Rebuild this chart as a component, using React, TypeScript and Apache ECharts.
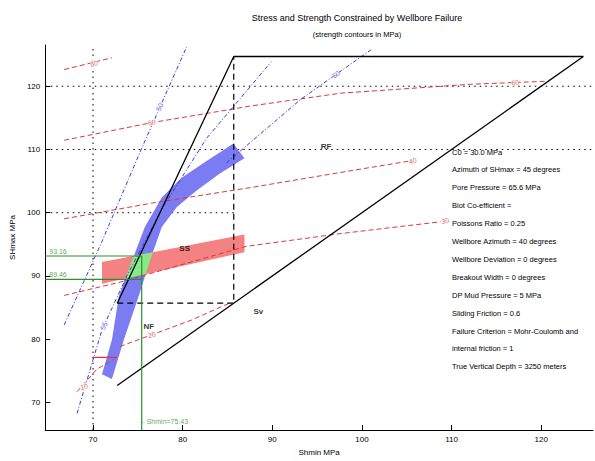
import React, { useEffect, useRef } from "react";
import * as echarts from "echarts";

// ---- axes ----
const xTickValues = [70, 80, 90, 100, 110, 120];
const yTickValues = [70, 80, 90, 100, 110, 120];
const xRange = [64.67, 125.78];
const yRange = [65.65, 126.52];

// ---- stress polygon (MPa) ----
const svMPa = 85.7;
const shminFrictionLimit = 72.7;
const shmaxFrictionLimit = 124.7;

// ---- dotted reference lines ----
const dottedShmin = [70];
const dottedShmaxFull = [120, 110];
const dottedShmaxShort = [100];

// ---- strength contours (red, dashed) ----
const redContour1 = [[66.78, 122.64], [72.11, 124.5]];
const redContour2 = [[66.78, 111.46], [76.56, 114.25], [87.67, 116.89], [97.67, 118.91], [112.11, 120.31], [120.44, 120.78]];
const redContour3 = [[66.78, 99.04], [76.56, 101.52], [87.67, 104.0], [98.78, 106.65], [105.44, 108.2]];
const redContour4 = [[66.78, 86.93], [73.22, 89.1], [87.11, 94.69], [97.67, 96.71], [108.78, 98.57]];
const redContour5 = [[73.0, 78.85], [76.56, 80.71], [81.0, 83.04], [85.44, 85.84]];
const redContour6 = [[68.22, 71.71], [70.44, 75.28], [72.33, 76.83]];
const redSolidSegment = [[69.89, 77.14], [72.67, 77.14]];
const redContours = [redContour1, redContour2, redContour3, redContour4, redContour5, redContour6];
const redLabelText = ["80", "60", "60", "40", "30", "20", "10"];
const redLabelPos = [[70.1, 123.6], [76.56, 114.25], [117.1, 120.6], [105.67, 108.2], [109.3, 98.7], [76.56, 80.71], [69.0, 72.5]];

// ---- strength contours (blue, dash-dot) ----
const blueContour1 = [[66.78, 82.27], [71.0, 95.47], [75.44, 110.22], [80.44, 126.21]];
const blueContour2 = [[68.22, 68.29], [71.0, 81.49], [73.78, 90.03], [77.67, 100.59], [82.67, 111.77], [89.89, 123.88]];
const blueContour3 = [[84.89, 107.89], [93.22, 117.98], [101.0, 125.75]];
const blueContours = [blueContour1, blueContour2, blueContour3];
const blueLabelText = ["50", "55", "60"];
const blueLabelPos = [[77.44, 116.74], [71.22, 82.1], [97.11, 121.86]];

// ---- breakout band (blue) and tensile band (red) ----
const blueBandLeft = [[71.0, 74.47], [72.11, 79.91], [72.89, 86.89], [74.33, 92.33], [75.78, 97.76], [77.67, 102.42], [79.89, 105.53], [82.67, 108.17], [85.67, 110.96]];
const blueBandRight = [[72.11, 73.7], [73.44, 79.91], [75.11, 86.89], [76.33, 92.33], [77.67, 97.76], [79.33, 100.87], [81.56, 103.51], [84.11, 106.15], [86.89, 108.63]];
const redBandTop = [[71.0, 92.2], [86.89, 96.55]];
const redBandBottom = [[71.0, 88.79], [86.89, 93.76]];

// ---- constrained values ----
const shmaxUpper = 93.16;
const shmaxLower = 89.46;
const shminValue = 75.43;

// ---- region labels ----
const regionText = ["RF", "SS", "NF", "Sv"];
const regionPos = [[96.0, 110.53], [80.22, 94.38], [76.22, 81.96], [88.44, 84.44]];

// ---- info text ----
const infoLines = [
  "C0 = 30.0 MPa",
  "Azimuth of SHmax = 45 degrees",
  "Pore Pressure = 65.6 MPa",
  "Biot Co-efficient =",
  "Poissons Ratio = 0.25",
  "Wellbore Azimuth = 40 degrees",
  "Wellbore Deviation = 0 degrees",
  "Breakout Width = 0 degrees",
  "DP Mud Pressure = 5 MPa",
  "Sliding Friction = 0.6",
  "Failure Criterion = Mohr-Coulomb and",
  "internal friction = 1",
  "True Vertical Depth = 3250 meters",
];

const FONT = "Liberation Sans, Arial, sans-serif";

function clipPolygon(subject: number[][], clip: number[][]) {
  let area = 0;
  for (let i = 0; i < clip.length; i++) {
    const a = clip[i], b = clip[(i + 1) % clip.length];
    area += a[0] * b[1] - b[0] * a[1];
  }
  const s = Math.sign(area);
  const inside = (p: number[], a: number[], b: number[]) =>
    ((b[0] - a[0]) * (p[1] - a[1]) - (b[1] - a[1]) * (p[0] - a[0])) * s >= 0;
  const intersect = (p: number[], q: number[], a: number[], b: number[]) => {
    const x1 = p[0], y1 = p[1], x2 = q[0], y2 = q[1];
    const x3 = a[0], y3 = a[1], x4 = b[0], y4 = b[1];
    const den = (x1 - x2) * (y3 - y4) - (y1 - y2) * (x3 - x4);
    const t = ((x1 - x3) * (y3 - y4) - (y1 - y3) * (x3 - x4)) / den;
    return [x1 + t * (x2 - x1), y1 + t * (y2 - y1)];
  };
  let output = subject.slice();
  for (let i = 0; i < clip.length; i++) {
    const a = clip[i], b = clip[(i + 1) % clip.length];
    const input = output;
    output = [];
    for (let j = 0; j < input.length; j++) {
      const cur = input[j];
      const prev = input[(j + input.length - 1) % input.length];
      if (inside(cur, a, b)) {
        if (!inside(prev, a, b)) output.push(intersect(prev, cur, a, b));
        output.push(cur);
      } else if (inside(prev, a, b)) {
        output.push(intersect(prev, cur, a, b));
      }
    }
    if (!output.length) break;
  }
  return output;
}

function polygonSeries(pts: number[][], color: string, z: number) {
  return {
    type: "custom",
    coordinateSystem: "cartesian2d",
    data: [[pts[0][0], pts[0][1]]],
    silent: true,
    z,
    clip: true,
    renderItem: (_p: any, api: any) => ({
      type: "polygon",
      shape: { points: pts.map((p) => api.coord(p)) },
      style: { fill: color, stroke: "none" },
    }),
  };
}

function lineSeries(pts: number[][], color: string, width: number, type: any, z: number) {
  return {
    type: "line",
    data: pts,
    showSymbol: false,
    symbol: "none",
    silent: true,
    z,
    lineStyle: { color, width, type },
    clip: true,
  };
}

export default function App() {
  const ref = useRef<HTMLDivElement>(null);
  useEffect(() => {
    if (!ref.current) return;
    const chart = echarts.init(ref.current, undefined, { renderer: "svg" });

    const blueBand = [...blueBandLeft, ...blueBandRight.slice().reverse()];
    const redBand = [...redBandTop, ...redBandBottom.slice().reverse()];
    const greenPatch = clipPolygon(blueBand, redBand);

    const series: any[] = [];
    dottedShmin.forEach((v) => series.push(lineSeries([[v, yRange[0]], [v, yRange[1]]], "#000", 1, [1.5, 4], 1)));
    dottedShmaxFull.forEach((v) => series.push(lineSeries([[xRange[0], v], [xRange[1], v]], "#000", 1, [1.5, 4], 1)));
    dottedShmaxShort.forEach((v) => series.push(lineSeries([[xRange[0], v], [svMPa, v]], "#000", 1, [1.5, 4], 1)));

    series.push(polygonSeries(blueBand, "#7b7cf2", 2));
    series.push(polygonSeries(redBand, "#f58282", 2));
    if (greenPatch.length > 2) series.push(polygonSeries(greenPatch, "#86ea86", 3));

    redContours.forEach((c) => series.push(lineSeries(c, "#d63a3a", 1, [5, 3], 4)));
    series.push(lineSeries(redSolidSegment, "#d63a3a", 1.2, "solid", 4));
    blueContours.forEach((c) => series.push(lineSeries(c, "#3a3ad8", 1, [4, 2, 1, 2], 4)));

    series.push(lineSeries([[shminFrictionLimit, shminFrictionLimit], [shmaxFrictionLimit, shmaxFrictionLimit]], "#000", 1.3, "solid", 6));
    series.push(lineSeries([[shminFrictionLimit, svMPa], [svMPa, shmaxFrictionLimit], [shmaxFrictionLimit, shmaxFrictionLimit]], "#000", 1.3, "solid", 6));
    series.push(lineSeries([[shminFrictionLimit, svMPa], [svMPa, svMPa], [svMPa, shmaxFrictionLimit]], "#000", 1.2, [6, 4], 6));

    series.push(lineSeries([[xRange[0], shmaxUpper], [shminValue, shmaxUpper]], "#2f8f2f", 1.2, "solid", 7));
    series.push(lineSeries([[xRange[0], shmaxLower], [shminValue, shmaxLower]], "#2f8f2f", 1.2, "solid", 7));
    series.push(lineSeries([[shminValue, yRange[0]], [shminValue, shmaxUpper]], "#2f8f2f", 1.2, "solid", 7));

    const labelData: any[] = [];
    redLabelPos.forEach((p, i) =>
      labelData.push({
        value: p,
        label: { formatter: redLabelText[i], color: "#d63a3a", fontSize: 7, rotate: 12, backgroundColor: "#fff", padding: 0 },
      })
    );
    blueLabelPos.forEach((p, i) =>
      labelData.push({
        value: p,
        label: { formatter: blueLabelText[i], color: "#3a3ad8", fontSize: 7, rotate: i === 2 ? 38 : 65, backgroundColor: "#fff", padding: 0 },
      })
    );
    regionPos.forEach((p, i) =>
      labelData.push({
        value: p,
        label: { formatter: regionText[i], color: "#000", fontSize: 8, fontWeight: "bold" },
      })
    );
    labelData.push({
      value: [xRange[0], shmaxUpper],
      label: { formatter: shmaxUpper.toFixed(2), color: "#2f8f2f", fontSize: 7, align: "left", verticalAlign: "bottom", offset: [4, -1] },
    });
    labelData.push({
      value: [xRange[0], shmaxLower],
      label: { formatter: shmaxLower.toFixed(2), color: "#2f8f2f", fontSize: 7, align: "left", verticalAlign: "bottom", offset: [4, -1] },
    });
    labelData.push({
      value: [shminValue, yRange[0] + 1.4],
      label: { formatter: "\u2190Shmin=" + shminValue.toFixed(2), color: "#2f8f2f", fontSize: 7, align: "left", verticalAlign: "middle", offset: [-2, 0] },
    });

    series.push({
      type: "scatter",
      data: labelData,
      symbolSize: 0,
      silent: true,
      z: 10,
      label: { show: true, position: "inside", fontFamily: FONT, align: "center", verticalAlign: "middle" },
    });

    const graphics: any[] = [
      {
        type: "text",
        x: 357,
        y: 18,
        style: { text: "Stress and Strength Constrained by Wellbore Failure", fontSize: 9, fontFamily: FONT, fill: "#000", textAlign: "center", textVerticalAlign: "middle" },
      },
      {
        type: "text",
        x: 357,
        y: 34,
        style: { text: "(strength contours in MPa)", fontSize: 7.5, fontFamily: FONT, fill: "#000", textAlign: "center", textVerticalAlign: "middle" },
      },
    ];
    infoLines.forEach((t, i) =>
      graphics.push({
        type: "text",
        x: 452,
        y: 152 + i * 17.9,
        style: { text: t, fontSize: 7.5, fontFamily: FONT, fill: "#000", textVerticalAlign: "middle" },
      })
    );

    chart.setOption({
      animation: false,
      backgroundColor: "#fff",
      grid: { left: 43, top: 45, width: 550, height: 392, containLabel: false },
      xAxis: {
        type: "value",
        min: xRange[0],
        max: xRange[1],
        name: "Shmin MPa",
        nameLocation: "middle",
        nameGap: 18,
        nameTextStyle: { fontSize: 8, fontFamily: FONT, color: "#000" },
        axisLine: { show: true, onZero: false, lineStyle: { color: "#000", width: 1 } },
        axisTick: { show: true, inside: true, length: 5, customValues: xTickValues, lineStyle: { color: "#000" } },
        axisLabel: { customValues: xTickValues, fontSize: 8, fontFamily: FONT, color: "#000", margin: 5 },
        splitLine: { show: false },
      },
      yAxis: {
        type: "value",
        min: yRange[0],
        max: yRange[1],
        name: "SHmax MPa",
        nameLocation: "middle",
        nameGap: 22,
        nameTextStyle: { fontSize: 8, fontFamily: FONT, color: "#000" },
        axisLine: { show: true, onZero: false, lineStyle: { color: "#000", width: 1 } },
        axisTick: { show: true, inside: true, length: 5, customValues: yTickValues, lineStyle: { color: "#000" } },
        axisLabel: { customValues: yTickValues, fontSize: 8, fontFamily: FONT, color: "#000", margin: 5 },
        splitLine: { show: false },
      },
      graphic: graphics,
      series,
    });
    return () => chart.dispose();
  }, []);
  return <div ref={ref} style={{ position: "fixed", left: 0, top: 0, width: 595, height: 461 }} />;
}
